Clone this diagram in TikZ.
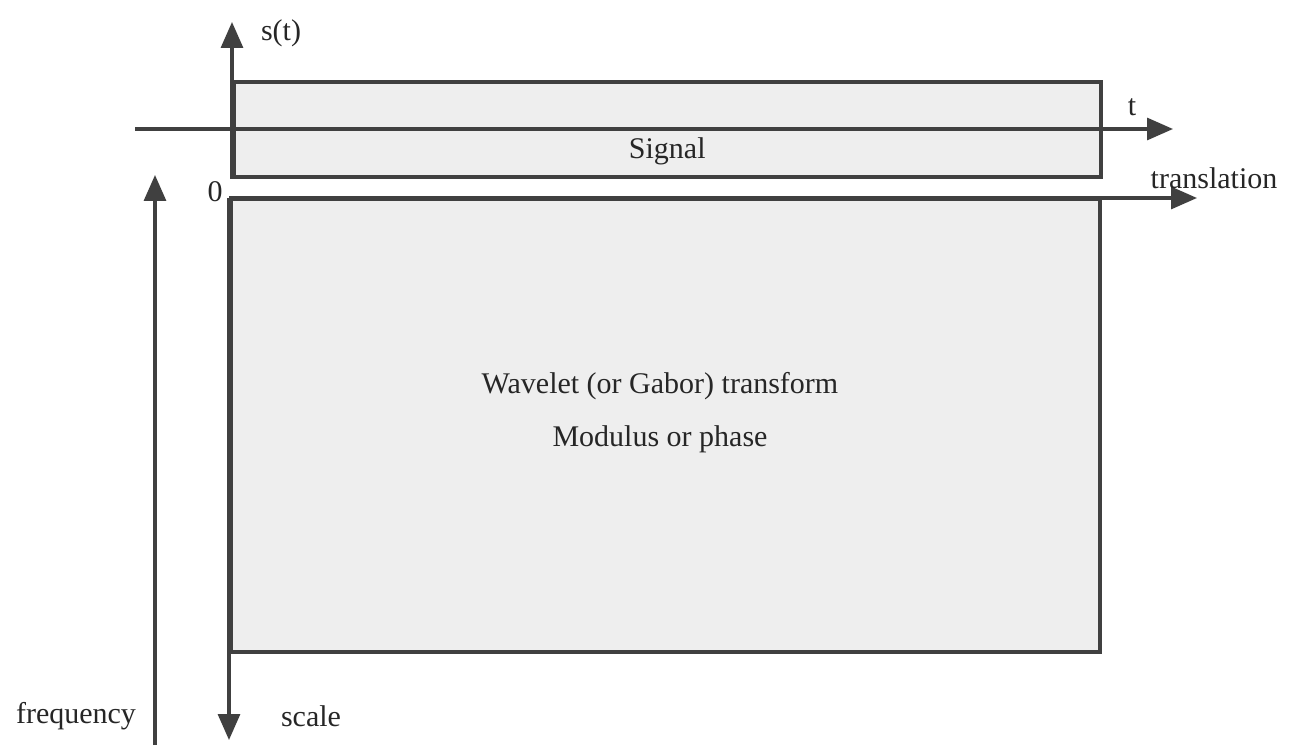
\documentclass[tikz,border=0pt]{standalone}
\usepackage{fontspec}
\setmainfont{Liberation Serif}
\usetikzlibrary{arrows.meta,positioning}

\begin{document}
\begin{tikzpicture}[x=0.5pt,y=-0.5pt,>={Triangle[length=13pt,width=11pt]},
 every node/.style={font=\fontsize{15}{18}\selectfont,text=black!85},
 box/.style={draw=black!75,line width=1.8pt,fill=gray!13,rectangle,inner sep=0pt,anchor=north west},
 ax/.style={draw=black!75,line width=1.6pt,->,color=black!75}]
\useasboundingbox (0,0) rectangle (1296,748);
% the two panels
\node[box,minimum width=433.5pt,minimum height=47.5pt] (signal) at (232,80) {};
\node[box,minimum width=434.5pt,minimum height=226.5pt] (wt) at (229,197) {};
\node at (signal.center) [yshift=-11pt] {Signal};
\node (wtext) at (660,386) {Wavelet (or Gabor) transform};
\node[below=6pt of wtext] (mod) {Modulus or phase};
% axes
\coordinate (tl) at (135,129);
\coordinate (tr) at (1173,129);
\coordinate (stop) at (232,22);
\coordinate (o) at (229,198);
\coordinate (trr) at (1197,198);
\coordinate (sc) at (229,740);
\coordinate (fb) at (155,745);
\coordinate (ft) at (155,175);
\draw[ax] (tl) -- (tr);
\draw[ax] (signal.south west) -- (stop);
\draw[ax] (o) -- (trr);
\draw[ax] (o) -- (sc);
\draw[ax] (fb) -- (ft);
% labels
\node (st) at (281,33) {s(t)};
\node (tlab) at (1132,107) {t};
\node (trlab) at (1214,178) {translation};
\node (zero) at (215,192) {0};
\node (sclab) at (311,716) {scale};
\node (frlab) at (76,716) {frequency};
\end{tikzpicture}
\end{document}
